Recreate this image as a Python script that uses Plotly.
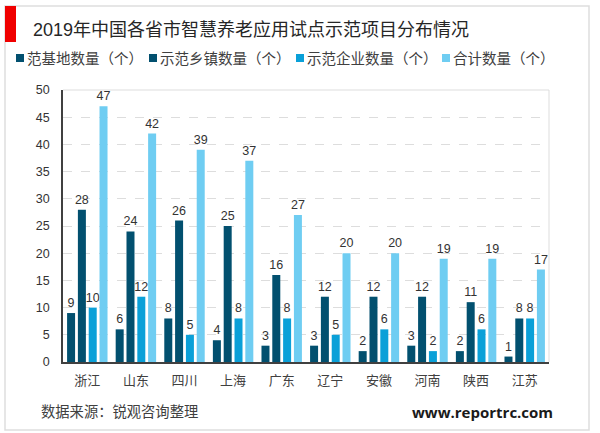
import plotly.graph_objects as go

provinces = ['浙江', '山东', '四川', '上海', '广东', '辽宁', '安徽', '河南', '陕西', '江苏']
base_counts = [9, 6, 8, 4, 3, 3, 2, 3, 2, 1]
town_counts = [28, 24, 26, 25, 16, 12, 12, 12, 11, 8]
company_counts = [10, 12, 5, 8, 8, 5, 6, 2, 6, 8]
total_counts = [47, 42, 39, 37, 27, 20, 20, 19, 19, 17]

series_names = ['范基地数量（个）', '示范乡镇数量（个）', '示范企业数量（个）', '合计数量（个）']
series_values = [base_counts, town_counts, company_counts, total_counts]
series_colors = ['#02506F', '#02506F', '#0AA0D8', '#6FCDF2']
legend_x = [16, 149, 296, 442]

FONT = 'Liberation Sans, Noto Sans CJK SC, sans-serif'
W, H = 600, 433
LEFT, RIGHT, TOP, BOTTOM = 63, 549, 90, 362


# paper coordinates are relative to the plot area, these take page pixels
def px_x(v):
    return (v - LEFT) / (RIGHT - LEFT)


def px_y(v):
    return (BOTTOM - v) / (BOTTOM - TOP)


def page_rect(x0, x1, y0, y1, **kwargs):
    return dict(type='rect', xref='paper', yref='paper', x0=px_x(x0), x1=px_x(x1),
                y0=px_y(y0), y1=px_y(y1), **kwargs)


def page_text(text, x, y, anchor, size, color, family=FONT):
    return dict(text=text, xref='paper', yref='paper', x=px_x(x), y=px_y(y), xanchor=anchor,
                yanchor='middle', showarrow=False, font=dict(size=size, color=color, family=family))


fig = go.Figure()
for name, values, color in zip(series_names, series_values, series_colors):
    fig.add_bar(x=provinces, y=values, name=name, marker=dict(color=color, line=dict(width=0)),
                text=values, textposition='outside', cliponaxis=False, constraintext='none',
                textfont=dict(size=12.5, color='#333333'))

shapes = [
    page_rect(5, 589, 6, 430, line=dict(color='#DEDEDE', width=1.5), layer='below'),
    page_rect(5, 16, 6, 42, fillcolor='#F00000', line=dict(width=0)),
    dict(type='line', xref='paper', yref='paper', x0=0, x1=1, y0=1, y1=1, line=dict(color='#DDDDDD', width=1)),
    dict(type='line', xref='paper', yref='paper', x0=1, x1=1, y0=0, y1=1, line=dict(color='#DDDDDD', width=1)),
]
annotations = [
    page_text('2019年中国各省市智慧养老应用试点示范项目分布情况', 31, 30, 'left', 18, '#262626'),
    page_text('数据来源：锐观咨询整理', 39, 412, 'left', 14.3, '#404040'),
    page_text('<b>www.reportrc.com</b>', 555, 412, 'right', 15, '#1A1A1A', 'Open Sans, sans-serif'),
]
for name, color, x in zip(series_names, series_colors, legend_x):
    shapes.append(page_rect(x, x + 8, 54, 62, fillcolor=color, line=dict(width=0)))
    annotations.append(page_text(name, x + 9, 59, 'left', 14.5, '#404040'))

fig.update_layout(
    width=W, height=H, autosize=False,
    margin=dict(l=LEFT, r=W - RIGHT, t=TOP, b=H - BOTTOM),
    paper_bgcolor='white', plot_bgcolor='white',
    font=dict(family=FONT, color='#404040'),
    barmode='group', bargap=0.11, bargroupgap=0.26, showlegend=False,
    xaxis=dict(showline=True, linecolor='#404040', linewidth=1.5, ticks='', showgrid=False,
               tickfont=dict(size=13, color='#404040'), ticklabelstandoff=6),
    yaxis=dict(range=[0, 50], dtick=5, showline=True, linecolor='#404040', linewidth=1.5, ticks='',
               showgrid=True, gridcolor='#DDDDDD', griddash='dash', gridwidth=1, zeroline=False,
               tickfont=dict(size=12.5, color='#333333'), ticklabelstandoff=9),
    shapes=shapes,
    annotations=annotations,
)

# the page's default body margin would push the figure 8px down and right
fig.write_html('out.html', config=dict(displayModeBar=False),
               post_script="document.body.style.margin = '0';")
